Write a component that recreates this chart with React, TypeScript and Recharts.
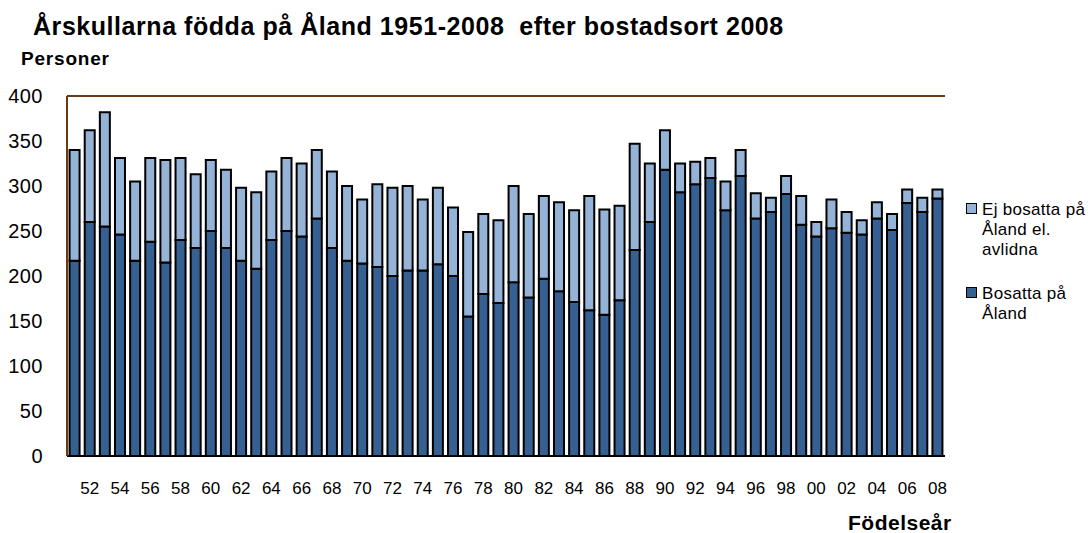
import {
  BarChart,
  Bar,
  XAxis,
  YAxis,
  CartesianGrid,
  ReferenceLine,
} from "recharts";

// Födelseår 1951-2008
const years = [
  1951, 1952, 1953, 1954, 1955, 1956, 1957, 1958, 1959, 1960,
  1961, 1962, 1963, 1964, 1965, 1966, 1967, 1968, 1969, 1970,
  1971, 1972, 1973, 1974, 1975, 1976, 1977, 1978, 1979, 1980,
  1981, 1982, 1983, 1984, 1985, 1986, 1987, 1988, 1989, 1990,
  1991, 1992, 1993, 1994, 1995, 1996, 1997, 1998, 1999, 2000,
  2001, 2002, 2003, 2004, 2005, 2006, 2007, 2008,
];

// Bosatta på Åland
const bosatta = [
  217, 260, 255, 246, 217, 238, 215, 240, 231, 250,
  231, 217, 208, 240, 250, 244, 264, 231, 217, 214,
  210, 200, 206, 206, 213, 200, 155, 180, 170, 193,
  176, 197, 183, 171, 162, 157, 173, 229, 260, 318,
  293, 302, 309, 273, 311, 264, 271, 291, 257, 244,
  253, 248, 246, 264, 251, 281, 271, 286,
];

// Ej bosatta på Åland el. avlidna
const ejBosatta = [
  123, 102, 127, 85, 88, 93, 114, 91, 82, 79,
  87, 81, 85, 76, 81, 81, 76, 85, 83, 71,
  92, 98, 94, 79, 85, 76, 94, 89, 92, 107,
  93, 92, 99, 102, 127, 117, 105, 118, 65, 44,
  32, 25, 22, 32, 29, 28, 16, 20, 32, 16,
  32, 23, 16, 18, 18, 15, 16, 10,
];

const yTicks = [0, 50, 100, 150, 200, 250, 300, 350, 400];

const data = years.map((year, i) => ({
  year,
  bosatta: bosatta[i],
  ej: ejBosatta[i],
}));

const font = "Arial, 'Liberation Sans', sans-serif";
const light = "#95B3D7";
const dark = "#376092";
const brown = "#6B3A12";

const yearLabel = (y: number) =>
  y % 2 === 0 ? String(y % 100).padStart(2, "0") : "";

const LegendItem = ({
  color,
  lines,
  top,
}: {
  color: string;
  lines: string[];
  top: number;
}) => (
  <div style={{ position: "absolute", left: 966, top }}>
    <div
      style={{
        position: "absolute",
        left: 0,
        top: 3,
        width: 9,
        height: 9,
        background: color,
        border: "1.5px solid #000",
      }}
    />
    <div
      style={{
        position: "absolute",
        left: 16,
        top: 0,
        fontSize: 17,
        lineHeight: "20px",
        whiteSpace: "nowrap",
        letterSpacing: 0.3,
      }}
    >
      {lines.map((l) => (
        <div key={l}>{l}</div>
      ))}
    </div>
  </div>
);

export default function App() {
  return (
    <div
      style={{
        position: "absolute",
        left: 0,
        top: 0,
        width: 1088,
        height: 533,
        background: "#fff",
        fontFamily: font,
        color: "#000",
      }}
    >
      <div
        style={{
          position: "absolute",
          left: 33,
          top: 12,
          fontSize: 25,
          fontWeight: "bold",
          letterSpacing: 0.55,
          whiteSpace: "pre",
        }}
      >
        {"Årskullarna födda på Åland 1951-2008  efter bostadsort 2008"}
      </div>
      <div
        style={{
          position: "absolute",
          left: 21,
          top: 48,
          fontSize: 19,
          fontWeight: "bold",
          letterSpacing: 0.8,
        }}
      >
        Personer
      </div>
      <div
        style={{
          position: "absolute",
          left: 848,
          top: 511,
          fontSize: 21,
          fontWeight: "bold",
          letterSpacing: 0.5,
        }}
      >
        Födelseår
      </div>
      <LegendItem
        color={light}
        lines={["Ej bosatta på", "Åland el.", "avlidna"]}
        top={200}
      />
      <LegendItem color={dark} lines={["Bosatta på", "Åland"]} top={284} />
      <BarChart
        width={1088}
        height={533}
        data={data}
        margin={{ top: 96, right: 143, bottom: 17, left: 7 }}
        barCategoryGap="17%"
      >
        <CartesianGrid
          vertical={false}
          stroke="#A0A0A0"
          strokeWidth={2}
        />
        <XAxis
          dataKey="year"
          interval={0}
          tickFormatter={yearLabel}
          tickLine={false}
          tickSize={0}
          tickMargin={26}
          axisLine={{ stroke: "#000", strokeWidth: 2 }}
          tick={{ fill: "#000", fontSize: 17, fontFamily: font }}
          height={60}
        />
        <YAxis
          yAxisId="l"
          domain={[0, 400]}
          ticks={yTicks}
          width={60}
          tickLine={false}
          tickSize={0}
          tickMargin={24}
          axisLine={{ stroke: brown, strokeWidth: 2 }}
          tick={{ fill: "#000", fontSize: 20, fontFamily: font, letterSpacing: 0.5 }}
        />
        <YAxis
          yAxisId="r"
          orientation="right"
          domain={[0, 400]}
          width={0}
          tick={false}
          tickLine={false}
          axisLine={{ stroke: "#000", strokeWidth: 2 }}
        />
        <ReferenceLine yAxisId="l" y={400} stroke={brown} strokeWidth={2} />
        <Bar
          yAxisId="l"
          dataKey="bosatta"
          name="Bosatta på Åland"
          stackId="a"
          fill={dark}
          stroke="#000"
          strokeWidth={2}
          isAnimationActive={false}
        />
        <Bar
          yAxisId="l"
          dataKey="ej"
          name="Ej bosatta på Åland el. avlidna"
          stackId="a"
          fill={light}
          stroke="#000"
          strokeWidth={2}
          isAnimationActive={false}
        />
      </BarChart>
    </div>
  );
}
